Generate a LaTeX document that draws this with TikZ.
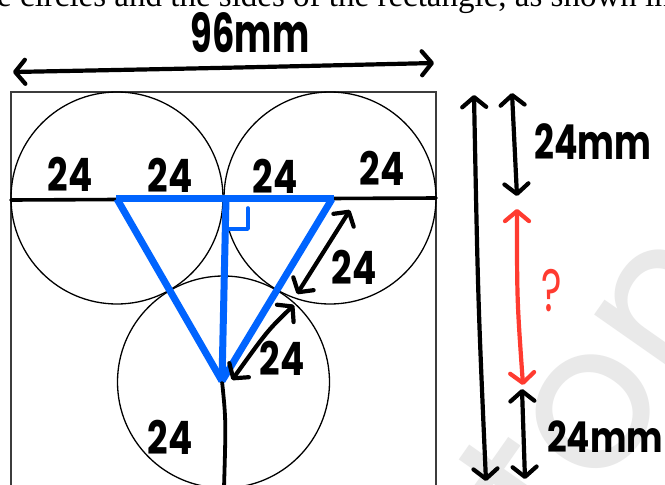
\documentclass[tikz,border=0pt]{standalone}
\usepackage{fontspec}
\setmainfont{Liberation Serif}
\newfontfamily\hand{Poppins}
\usetikzlibrary{arrows.meta}
\definecolor{hblue}{RGB}{0,100,255}
\definecolor{hred}{RGB}{255,59,48}
\definecolor{wmgray}{RGB}{233,233,233}
\definecolor{rectgray}{RGB}{60,60,60}
\tikzset{
  pen/.style={line width=4.2pt, line cap=round, line join=round},
  dblarrow/.style={pen, {Straight Barb[length=10pt,width=24pt,round]}-{Straight Barb[length=10pt,width=24pt,round]}},
  bluepen/.style={line width=7pt, hblue, line cap=butt, line join=miter},
  thinc/.style={line width=1.3pt, black},
  lbl/.style={font=\hand\bfseries\fontsize{39}{39}\selectfont, inner sep=0pt},
  mmlbl/.style={font=\hand\bfseries\fontsize{37}{37}\selectfont, inner sep=0pt},
}
\begin{document}
\begin{tikzpicture}[x=1pt,y=-1pt]
\useasboundingbox (0,0) rectangle (665,485);
\clip (0,0) rectangle (665,485);
\fill[white] (0,0) rectangle (665,485);
% watermark
\node[rotate=55, text=wmgray, font=\hand\fontsize{200}{200}\selectfont, anchor=base west, inner sep=0pt] (wm) at (560,555) {ton};
% clipped question text
\node[anchor=base west, inner sep=0pt, font=\fontsize{33}{33}\selectfont] (qtext) at (-3,6) {e circles and the sides of the rectangle, as shown in};
% rectangle and circles
\draw[line width=1.5pt, rectgray] (11,92) rectangle (436,520);
\draw[thinc] (117,198) circle[radius=106];
\draw[thinc] (330,198) circle[radius=106];
\draw[thinc] (223.5,382) circle[radius=106];
% coordinates
\coordinate (hl) at (11,200);
\coordinate (hr) at (436,198);
\coordinate (tl) at (116,198);
\coordinate (tr) at (334,198);
\coordinate (bv) at (222,381);
\coordinate (vt) at (226,198);
\coordinate (bot) at (224,488);
% black lines
\draw[line width=3.6pt, line cap=round] (hl) -- (hr);
\draw[line width=3.8pt, line cap=round] (bv) .. controls (226,420) .. (bot);
% blue triangle
\draw[bluepen] (tl) -- (tr);
\draw[bluepen] (117,199) -- (bv);
\draw[bluepen] (332,199) -- (bv);
\draw[bluepen] (vt) -- (bv);
\coordinate (ra1) at (229,229);
\coordinate (ra2) at (248,229);
\coordinate (ra3) at (248,208);
\draw[line width=3.6pt, hblue, line cap=round, line join=round] (ra1) -- (ra2) -- (ra3);
% dimension arrows in the figure
\coordinate (a1s) at (350,210);
\coordinate (a1e) at (297,294);
\coordinate (a2s) at (294,305);
\coordinate (a2e) at (232,380);
\draw[dblarrow] (a1s) -- (a1e);
\draw[dblarrow] (a2s) .. controls (268,330) .. (a2e);
% top arrow
\coordinate (tal) at (13,72);
\coordinate (tar) at (434,63);
\draw[dblarrow] (tal) .. controls (220,68) .. (tar);
% right arrows
\coordinate (L1) at (474,95);
\coordinate (L2) at (486,481);
\draw[dblarrow] (L1) .. controls (478,300) .. (L2);
\coordinate (r1a) at (512,93);
\coordinate (r1b) at (517,196);
\draw[dblarrow] (r1a) -- (r1b);
\coordinate (rda) at (517,209);
\coordinate (rdb) at (523,385);
\draw[dblarrow, hred] (rda) .. controls (517,300) .. (rdb);
\coordinate (r2a) at (522,389);
\coordinate (r2b) at (525,479);
\draw[dblarrow] (r2a) -- (r2b);
% labels
\node[lbl] (n1) at (70,174) {\scalebox{0.92}[1.18]{24}};
\node[lbl] (n2) at (170,175) {\scalebox{0.92}[1.18]{24}};
\node[lbl] (n3) at (275,176) {\scalebox{0.92}[1.18]{24}};
\node[lbl] (n4) at (382,168) {\scalebox{0.92}[1.18]{24}};
\node[lbl] (n5) at (354,267) {\scalebox{0.92}[1.18]{24}};
\node[lbl] (n6) at (282,358) {\scalebox{0.92}[1.18]{24}};
\node[lbl] (n7) at (170,437) {\scalebox{0.92}[1.18]{24}};
\node[mmlbl] (w96) at (250,33) {\scalebox{0.95}[1.45]{96mm}};
\node[mmlbl] (m1) at (593,142) {\scalebox{0.94}[1.3]{24mm}};
\node[mmlbl] (m2) at (605,437) {\scalebox{0.93}[1.15]{24mm}};
\node[inner sep=0pt, text=hred, font=\hand\fontsize{46}{46}\selectfont] (qm) at (552,291) {\scalebox{0.85}[1.3]{?}};
\end{tikzpicture}
\end{document}
